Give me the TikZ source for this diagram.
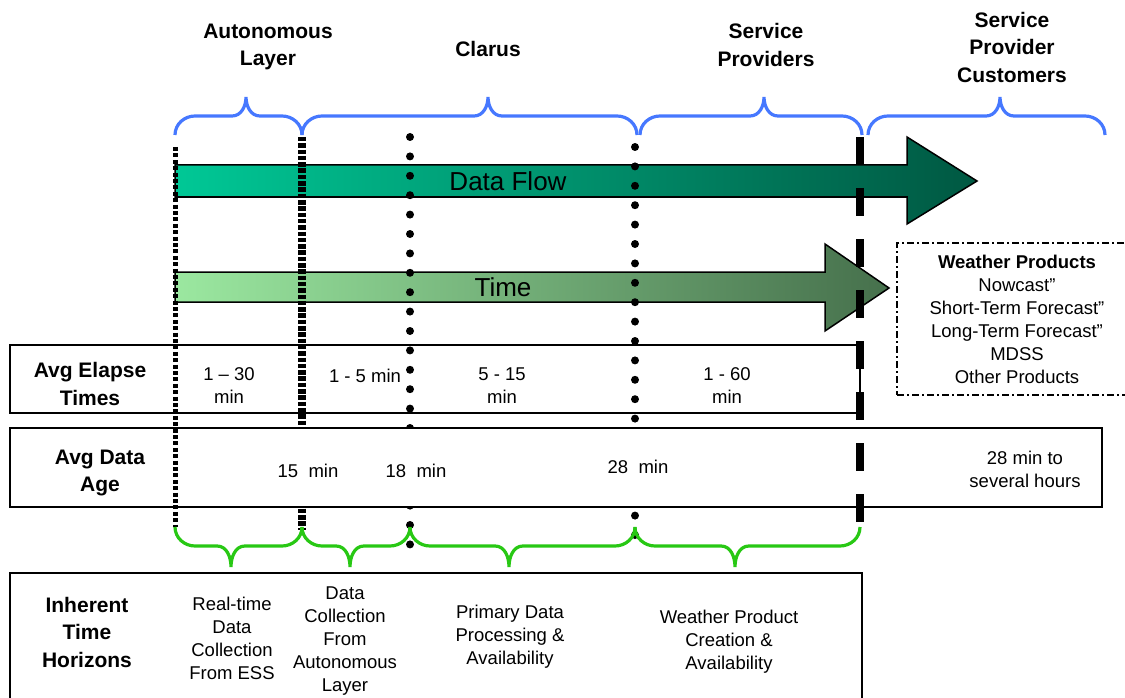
\documentclass[tikz,border=0pt]{standalone}
\usepackage{fontspec}
\setmainfont{Liberation Sans}
\usetikzlibrary{positioning}
\definecolor{upblue}{RGB}{70,120,255}
\definecolor{downgreen}{RGB}{40,200,20}
\definecolor{flowa}{RGB}{0,200,150}
\definecolor{flowb}{RGB}{0,155,116}
\definecolor{flowc}{RGB}{0,88,66}
\definecolor{timea}{RGB}{155,232,160}
\definecolor{timeb}{RGB}{122,188,128}
\definecolor{timec}{RGB}{70,112,76}
\begin{document}
\begin{tikzpicture}[x=1pt, y=-1pt, thick,
    main/.style = {draw=none, align=center, font=\fontsize{21}{27.5}\selectfont\bfseries},
    small/.style = {draw=none, align=center, font=\fontsize{18.5}{23}\selectfont},
    big/.style = {draw=none, font=\fontsize{26}{30}\selectfont},
    box/.style = {draw, line width=1.6pt},
    up/.style = {draw=upblue, line width=3.2pt},
    down/.style = {draw=downgreen, line width=3.2pt},
    sqline/.style = {line width=5pt, dash pattern=on 4pt off 2.4pt},
    sqwide/.style = {line width=8pt, dash pattern=on 4.5pt off 1.8pt},
    dotline/.style = {line width=8pt, line cap=round, dash pattern=on 0pt off 19.4pt},
    longdash/.style = {line width=8.5pt, dash pattern=on 28pt off 23pt}]
    \clip (0,0) rectangle (1125,698);

    % column heads
    \node[main] (1) at (268,47)  {Autonomous\\Layer};
    \node[main] (2) at (488,49)  {Clarus};
    \node[main] (3) at (766,45)  {Service\\Providers};
    \node[main] (4) at (1012,47) {Service\\Provider\\Customers};

    \draw[up] (175,135) to[out=90,in=180] (195,116) -- (232,116) to[out=0,in=-90] (246,97) to[out=-90,in=180] (260,116) -- (282,116) to[out=0,in=90] (302,135);
    \draw[up] (302,135) to[out=90,in=180] (322,116) -- (474,116) to[out=0,in=-90] (488,97) to[out=-90,in=180] (502,116) -- (617,116) to[out=0,in=90] (637,135);
    \draw[up] (640,135) to[out=90,in=180] (660,116) -- (750,116) to[out=0,in=-90] (764,97) to[out=-90,in=180] (778,116) -- (842,116) to[out=0,in=90] (862,135);
    \draw[up] (868,135) to[out=90,in=180] (888,116) -- (986,116) to[out=0,in=-90] (1000,97) to[out=-90,in=180] (1014,116) -- (1085,116) to[out=0,in=90] (1105,135);

    % arrows
    \path[draw=black, line width=1.5pt, left color=flowa, middle color=flowb, right color=flowc]
        (175,165) -- (907,165) -- (907,137) -- (977,181) -- (907,224) -- (907,197) -- (175,197) -- cycle;
    \path[draw=black, line width=1.5pt, left color=timea, middle color=timeb, right color=timec]
        (175,272) -- (825,272) -- (825,244) -- (889,288) -- (825,331) -- (825,302) -- (175,302) -- cycle;
    \node[big] (5) at (508,181) {Data Flow};
    \node[big] (6) at (503,287) {Time};

    \node[small, draw, line width=1.4pt, dash pattern=on 7pt off 3pt on 2pt off 3pt,
          minimum width=240pt, minimum height=152pt] (7) at (1017,319)
          {\textbf{Weather Products}\\Nowcast"\\Short-Term Forecast"\\Long-Term Forecast"\\MDSS\\Other Products};

    % rows
    \draw[box] (10,345) rectangle (860,413);
    \draw[sqwide] (302,137) -- (302,530);
    \draw[dotline] (410,137) -- (410,550);
    \draw[dotline] (635,147) -- (635,548);
    \draw[box, fill=white] (10,428) rectangle (1102,507);
    \draw[sqline] (175,147) -- (175,527);
    \draw[longdash] (860,137) -- (860,527);

    \node[main] (8) at (90,384)  {Avg Elapse\\Times};
    \node[small] (9) at (229,386) {1 -- 30\\min};
    \node[small] (10) at (365,376) {1 - 5 min};
    \node[small] (11) at (502,386) {5 - 15\\min};
    \node[small] (12) at (727,386) {1 - 60\\min};

    \node[main] (13) at (100,473) {Avg Data\\Age};
    \node[small] (14) at (308,471) {15~~min};
    \node[small] (15) at (416,471) {18~~min};
    \node[small] (16) at (638,467) {28~~min};
    \node[small] (17) at (1025,469) {28 min to\\several hours};

    % time horizons
    \draw[down] (175,527) to[out=-90,in=180] (195,546) -- (217,546) to[out=0,in=90] (231,567) to[out=90,in=180] (245,546) -- (282,546) to[out=0,in=-90] (302,527);
    \draw[down] (302,527) to[out=-90,in=180] (322,546) -- (336,546) to[out=0,in=90] (350,567) to[out=90,in=180] (364,546) -- (390,546) to[out=0,in=-90] (410,527);
    \draw[down] (410,527) to[out=-90,in=180] (430,546) -- (495,546) to[out=0,in=90] (509,567) to[out=90,in=180] (523,546) -- (615,546) to[out=0,in=-90] (635,527);
    \draw[down] (635,527) to[out=-90,in=180] (655,546) -- (721,546) to[out=0,in=90] (735,567) to[out=90,in=180] (749,546) -- (840,546) to[out=0,in=-90] (860,527);

    \draw[box] (10,705) -- (10,573) -- (862,573) -- (862,705);
    \node[main] (18) at (87,632)  {Inherent\\Time\\Horizons};
    \node[small] (19) at (232,638) {Real-time\\Data\\Collection\\From ESS};
    \node[small] (20) at (345,641) {Data\\Collection\\From\\Autonomous\\Layer};
    \node[small] (21) at (510,637) {Primary Data\\Processing \&\\Availability};
    \node[small] (22) at (729,642) {Weather Product\\Creation \&\\Availability};
\end{tikzpicture}
\end{document}
